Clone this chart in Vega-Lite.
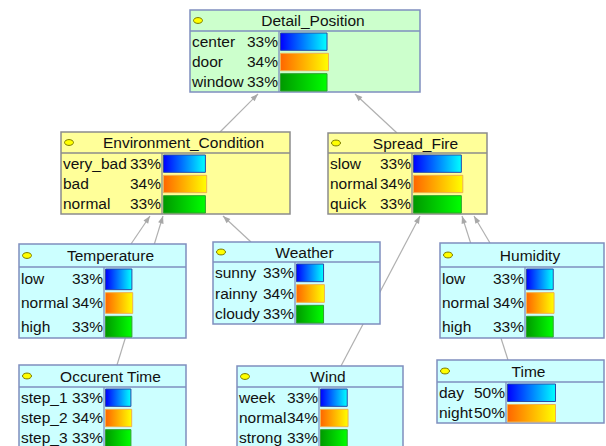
{
  "$schema": "https://vega.github.io/schema/vega-lite/v6.json",
  "width": 606,
  "height": 446,
  "padding": 0,
  "autosize": {"type": "none"},
  "background": "white",
  "config": {"view": {"stroke": null}},
  "datasets": {
    "nodes": [
      {"name": "Detail_Position", "x1": 190, "x2": 420, "y1": 10, "yh": 31, "y2": 92, "div": 279, "n": 3, "bw": 141, "fill": "#ccffcc", "border": "#7f8fbf"},
      {"name": "Environment_Condition", "x1": 61, "x2": 290, "y1": 132, "yh": 153, "y2": 214, "div": 162, "n": 3, "bw": 127, "fill": "#ffff99", "border": "#8c8c8c"},
      {"name": "Spread_Fire", "x1": 328, "x2": 487, "y1": 133, "yh": 153, "y2": 214, "div": 412, "n": 3, "bw": 145, "fill": "#ffff99", "border": "#8c8c8c"},
      {"name": "Temperature", "x1": 19, "x2": 186, "y1": 244, "yh": 267, "y2": 338, "div": 104, "n": 3, "bw": 80, "fill": "#ccffff", "border": "#7f8fbf"},
      {"name": "Weather", "x1": 213, "x2": 380, "y1": 242, "yh": 262, "y2": 324, "div": 295, "n": 3, "bw": 82, "fill": "#ccffff", "border": "#7f8fbf"},
      {"name": "Humidity", "x1": 440, "x2": 604, "y1": 243, "yh": 267, "y2": 338, "div": 525, "n": 3, "bw": 81, "fill": "#ccffff", "border": "#7f8fbf"},
      {"name": "Occurent Time", "x1": 19, "x2": 186, "y1": 365, "yh": 387, "y2": 448, "div": 104, "n": 3, "bw": 77, "fill": "#ccffff", "border": "#7f8fbf"},
      {"name": "Wind", "x1": 237, "x2": 403, "y1": 366, "yh": 387, "y2": 448, "div": 319, "n": 3, "bw": 81, "fill": "#ccffff", "border": "#7f8fbf"},
      {"name": "Time", "x1": 437, "x2": 604, "y1": 360, "yh": 382, "y2": 423, "div": 506, "n": 2, "bw": 96, "fill": "#ccffff", "border": "#7f8fbf"}
    ],
    "states": [
      {"node": "Detail_Position", "state": "center", "pct": 33, "i": 0},
      {"node": "Detail_Position", "state": "door", "pct": 34, "i": 1},
      {"node": "Detail_Position", "state": "window", "pct": 33, "i": 2},
      {"node": "Environment_Condition", "state": "very_bad", "pct": 33, "i": 0},
      {"node": "Environment_Condition", "state": "bad", "pct": 34, "i": 1},
      {"node": "Environment_Condition", "state": "normal", "pct": 33, "i": 2},
      {"node": "Spread_Fire", "state": "slow", "pct": 33, "i": 0},
      {"node": "Spread_Fire", "state": "normal", "pct": 34, "i": 1},
      {"node": "Spread_Fire", "state": "quick", "pct": 33, "i": 2},
      {"node": "Temperature", "state": "low", "pct": 33, "i": 0},
      {"node": "Temperature", "state": "normal", "pct": 34, "i": 1},
      {"node": "Temperature", "state": "high", "pct": 33, "i": 2},
      {"node": "Weather", "state": "sunny", "pct": 33, "i": 0},
      {"node": "Weather", "state": "rainny", "pct": 34, "i": 1},
      {"node": "Weather", "state": "cloudy", "pct": 33, "i": 2},
      {"node": "Humidity", "state": "low", "pct": 33, "i": 0},
      {"node": "Humidity", "state": "normal", "pct": 34, "i": 1},
      {"node": "Humidity", "state": "high", "pct": 33, "i": 2},
      {"node": "Occurent Time", "state": "step_1", "pct": 33, "i": 0},
      {"node": "Occurent Time", "state": "step_2", "pct": 34, "i": 1},
      {"node": "Occurent Time", "state": "step_3", "pct": 33, "i": 2},
      {"node": "Wind", "state": "week", "pct": 33, "i": 0},
      {"node": "Wind", "state": "normal", "pct": 34, "i": 1},
      {"node": "Wind", "state": "strong", "pct": 33, "i": 2},
      {"node": "Time", "state": "day", "pct": 50, "i": 0},
      {"node": "Time", "state": "night", "pct": 50, "i": 1}
    ],
    "edges": [
      {"from": "Environment_Condition", "to": "Detail_Position", "xa": 220, "ya": 132, "xb": 258, "yb": 94},
      {"from": "Spread_Fire", "to": "Detail_Position", "xa": 397, "ya": 133, "xb": 355, "yb": 94},
      {"from": "Temperature", "to": "Environment_Condition", "xa": 131, "ya": 244, "xb": 150, "yb": 216},
      {"from": "Occurent Time", "to": "Environment_Condition", "xa": 117, "ya": 365, "xb": 163, "yb": 216},
      {"from": "Weather", "to": "Environment_Condition", "xa": 251, "ya": 242, "xb": 223, "yb": 216},
      {"from": "Wind", "to": "Spread_Fire", "xa": 341, "ya": 366, "xb": 420, "yb": 216},
      {"from": "Humidity", "to": "Spread_Fire", "xa": 490, "ya": 243, "xb": 474, "yb": 216},
      {"from": "Time", "to": "Spread_Fire", "xa": 508, "ya": 360, "xb": 462, "yb": 216}
    ]
  },
  "layer": [
    {
      "data": {"name": "edges"},
      "mark": {"type": "rule", "color": "#b0b0b0", "strokeWidth": 1.2},
      "encoding": {
        "x": {"field": "xa", "type": "quantitative", "scale": {"domain": [0, 606], "nice": false, "zero": false}, "axis": null},
        "y": {"field": "ya", "type": "quantitative", "scale": {"domain": [0, 446], "nice": false, "zero": false, "reverse": true}, "axis": null},
        "x2": {"field": "xb"},
        "y2": {"field": "yb"}
      }
    },
    {
      "data": {"name": "edges"},
      "transform": [{"calculate": "atan2(datum.xb - datum.xa, datum.ya - datum.yb) * 180 / PI", "as": "ang"}],
      "mark": {"type": "point", "shape": "M0,0L-0.75,2L0.75,2Z", "filled": true, "color": "#a8a8a8", "opacity": 1, "size": 56},
      "encoding": {
        "x": {"field": "xb", "type": "quantitative"},
        "y": {"field": "yb", "type": "quantitative"},
        "angle": {"field": "ang", "type": "quantitative", "scale": null}
      }
    },
    {
      "data": {"name": "nodes"},
      "mark": {"type": "rect", "strokeWidth": 1.5, "clip": true},
      "encoding": {
        "x": {"field": "x1", "type": "quantitative"},
        "x2": {"field": "x2"},
        "y": {"field": "y1", "type": "quantitative"},
        "y2": {"field": "y2"},
        "fill": {"field": "fill", "type": "nominal", "scale": null},
        "stroke": {"field": "border", "type": "nominal", "scale": null}
      }
    },
    {
      "data": {"name": "nodes"},
      "mark": {"type": "rule", "strokeWidth": 1.3, "clip": true},
      "encoding": {
        "x": {"field": "x1", "type": "quantitative"},
        "x2": {"field": "x2"},
        "y": {"field": "yh", "type": "quantitative"},
        "stroke": {"field": "border", "type": "nominal", "scale": null}
      }
    },
    {
      "data": {"name": "nodes"},
      "mark": {"type": "rule", "strokeWidth": 1.3, "clip": true},
      "encoding": {
        "x": {"field": "div", "type": "quantitative"},
        "y": {"field": "yh", "type": "quantitative"},
        "y2": {"field": "y2"},
        "stroke": {"field": "border", "type": "nominal", "scale": null}
      }
    },
    {
      "data": {"name": "nodes"},
      "transform": [
        {"calculate": "datum.x1 + 8", "as": "ix"},
        {"calculate": "(datum.y1 + datum.yh) / 2", "as": "iy"}
      ],
      "mark": {"type": "point", "shape": "M-1,0A1,0.65,0,1,0,1,0A1,0.65,0,1,0,-1,0Z", "filled": true, "fill": "#ffff00", "stroke": "#7a7a00", "strokeWidth": 1, "opacity": 1, "size": 81},
      "encoding": {
        "x": {"field": "ix", "type": "quantitative"},
        "y": {"field": "iy", "type": "quantitative"}
      }
    },
    {
      "data": {"name": "nodes"},
      "transform": [
        {"calculate": "(datum.x1 + 16 + datum.x2) / 2", "as": "tx"},
        {"calculate": "(datum.y1 + datum.yh) / 2 + 0.5", "as": "ty"}
      ],
      "mark": {"type": "text", "font": "Liberation Sans", "fontSize": 15.5, "color": "#111111", "align": "center", "baseline": "middle"},
      "encoding": {
        "x": {"field": "tx", "type": "quantitative"},
        "y": {"field": "ty", "type": "quantitative"},
        "text": {"field": "name", "type": "nominal"}
      }
    },
    {
      "data": {"name": "states"},
      "transform": [
        {"lookup": "node", "from": {"data": {"name": "nodes"}, "key": "name", "fields": ["x1", "x2", "div", "yh", "y2", "n", "bw"]}},
        {"calculate": "(datum.y2 - datum.yh) / datum.n", "as": "rh"},
        {"calculate": "datum.yh + (datum.i + 0.5) * datum.rh + 0.5", "as": "ry"},
        {"calculate": "datum.yh + datum.i * datum.rh + 2", "as": "bt"},
        {"calculate": "datum.yh + (datum.i + 1) * datum.rh - 1", "as": "bb"},
        {"calculate": "datum.div + 1.5", "as": "bx1"},
        {"calculate": "datum.div + 1.5 + datum.pct / 100 * datum.bw", "as": "bx2"},
        {"calculate": "datum.x1 + 2", "as": "lx"},
        {"calculate": "datum.div - 1", "as": "px"},
        {"calculate": "datum.pct + '%'", "as": "ptxt"}
      ],
      "layer": [
        {
          "transform": [{"filter": "datum.i == 0"}],
          "mark": {"type": "rect", "clip": true, "stroke": "#2a4aa8", "strokeWidth": 1, "fill": {"gradient": "linear", "x1": 0, "y1": 0, "x2": 1, "y2": 0, "stops": [{"offset": 0, "color": "#0000ff"}, {"offset": 1, "color": "#00ffff"}]}},
          "encoding": {
            "x": {"field": "bx1", "type": "quantitative"},
            "x2": {"field": "bx2"},
            "y": {"field": "bt", "type": "quantitative"},
            "y2": {"field": "bb"}
          }
        },
        {
          "transform": [{"filter": "datum.i == 1"}],
          "mark": {"type": "rect", "clip": true, "stroke": "#f0b050", "strokeWidth": 1, "fill": {"gradient": "linear", "x1": 0, "y1": 0, "x2": 1, "y2": 0, "stops": [{"offset": 0, "color": "#ff6600"}, {"offset": 1, "color": "#ffff00"}]}},
          "encoding": {
            "x": {"field": "bx1", "type": "quantitative"},
            "x2": {"field": "bx2"},
            "y": {"field": "bt", "type": "quantitative"},
            "y2": {"field": "bb"}
          }
        },
        {
          "transform": [{"filter": "datum.i == 2"}],
          "mark": {"type": "rect", "clip": true, "stroke": "#30a030", "strokeWidth": 1, "fill": {"gradient": "linear", "x1": 0, "y1": 0, "x2": 1, "y2": 0, "stops": [{"offset": 0, "color": "#009900"}, {"offset": 1, "color": "#00ff00"}]}},
          "encoding": {
            "x": {"field": "bx1", "type": "quantitative"},
            "x2": {"field": "bx2"},
            "y": {"field": "bt", "type": "quantitative"},
            "y2": {"field": "bb"}
          }
        },
        {
          "mark": {"type": "text", "font": "Liberation Sans", "fontSize": 15.5, "color": "#111111", "align": "left", "baseline": "middle", "clip": true},
          "encoding": {
            "x": {"field": "lx", "type": "quantitative"},
            "y": {"field": "ry", "type": "quantitative"},
            "text": {"field": "state", "type": "nominal"}
          }
        },
        {
          "mark": {"type": "text", "font": "Liberation Sans", "fontSize": 15.5, "color": "#111111", "align": "right", "baseline": "middle", "clip": true},
          "encoding": {
            "x": {"field": "px", "type": "quantitative"},
            "y": {"field": "ry", "type": "quantitative"},
            "text": {"field": "ptxt", "type": "nominal"}
          }
        }
      ]
    }
  ]
}
